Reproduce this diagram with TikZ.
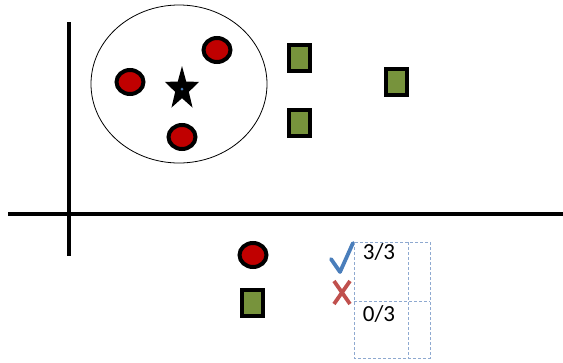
\documentclass[tikz,border=0pt]{standalone}
\usepackage{fontspec}
\setmainfont{Carlito}
\usetikzlibrary{shapes.geometric}
\definecolor{dotred}{HTML}{C00000}
\definecolor{sqgreen}{HTML}{77933C}
\definecolor{chkblue}{HTML}{4A7EBB}
\definecolor{xred}{HTML}{C0504D}
\definecolor{gridblue}{HTML}{8EA9D0}
\tikzset{
  reddot/.style={ellipse,draw=black,line width=4pt,fill=dotred,minimum width=27pt,minimum height=24pt,inner sep=0pt},
  greensq/.style={rectangle,draw=black,line width=4pt,fill=sqgreen,minimum width=21pt,minimum height=26pt,inner sep=0pt},
  axisline/.style={line width=4.5pt,black},
  gridline/.style={gridblue,line width=0.9pt,dash pattern=on 3pt off 2pt},
  lbl/.style={font=\fontsize{23}{25}\selectfont,inner sep=0pt}
}
\begin{document}
\begin{tikzpicture}[x=1pt,y=1pt]
\useasboundingbox (0,0) rectangle (563,-362);
% axes
\coordinate (vtop) at (69,-22);
\coordinate (vbot) at (69,-256);
\coordinate (hl) at (8,-214);
\coordinate (hr) at (563,-214);
\draw[axisline] (vtop) -- (vbot);
\draw[axisline] (hl) -- (hr);
% cluster ellipse
\node[ellipse,draw=black,line width=0.8pt,minimum width=176pt,minimum height=158pt,inner sep=0pt] (clu) at (179,-84) {};
% red dots
\node[reddot] (r1) at (130,-82) {};
\node[reddot] (r2) at (217,-50) {};
\node[reddot] (r3) at (182,-137) {};
% star
\node[star,star points=5,star point ratio=2.5,minimum size=46pt,fill=black,inner sep=0pt,xscale=0.78,transform shape] (st) at (182,-89) {};
\node[circle,fill=chkblue,minimum size=3pt,inner sep=0pt] (sd) at (182,-89) {};
% green squares
\node[greensq] (g1) at (299,-58) {};
\node[greensq] (g2) at (396,-82) {};
\node[greensq] (g3) at (299,-123) {};
% bottom legend
\node[reddot] (r4) at (253,-255) {};
\node[greensq] (g4) at (252,-303) {};
% check mark
\coordinate (c1) at (331,-259);
\coordinate (c2) at (340,-272);
\coordinate (c3) at (353,-243);
\draw[chkblue,line width=3.8pt,line cap=round,line join=round] (c1) -- (c2) -- (c3);
% cross
\coordinate (x1) at (334,-281);
\coordinate (x2) at (350,-304);
\coordinate (x3) at (350,-281);
\coordinate (x4) at (334,-304);
\draw[xred,line width=3.8pt] (x1) -- (x2);
\draw[xred,line width=3.8pt] (x3) -- (x4);
% dashed grid
\coordinate (ga) at (354,-242);
\coordinate (gb) at (430,-358);
\coordinate (gm1) at (408,-242);
\coordinate (gm2) at (408,-358);
\coordinate (gh1) at (354,-301);
\coordinate (gh2) at (430,-301);
\draw[gridline] (ga) rectangle (gb);
\draw[gridline] (gm1) -- (gm2);
\draw[gridline] (gh1) -- (gh2);
\node[lbl] (t1) at (379,-252) {3/3};
\node[lbl] (t2) at (379,-314) {0/3};
\end{tikzpicture}
\end{document}
